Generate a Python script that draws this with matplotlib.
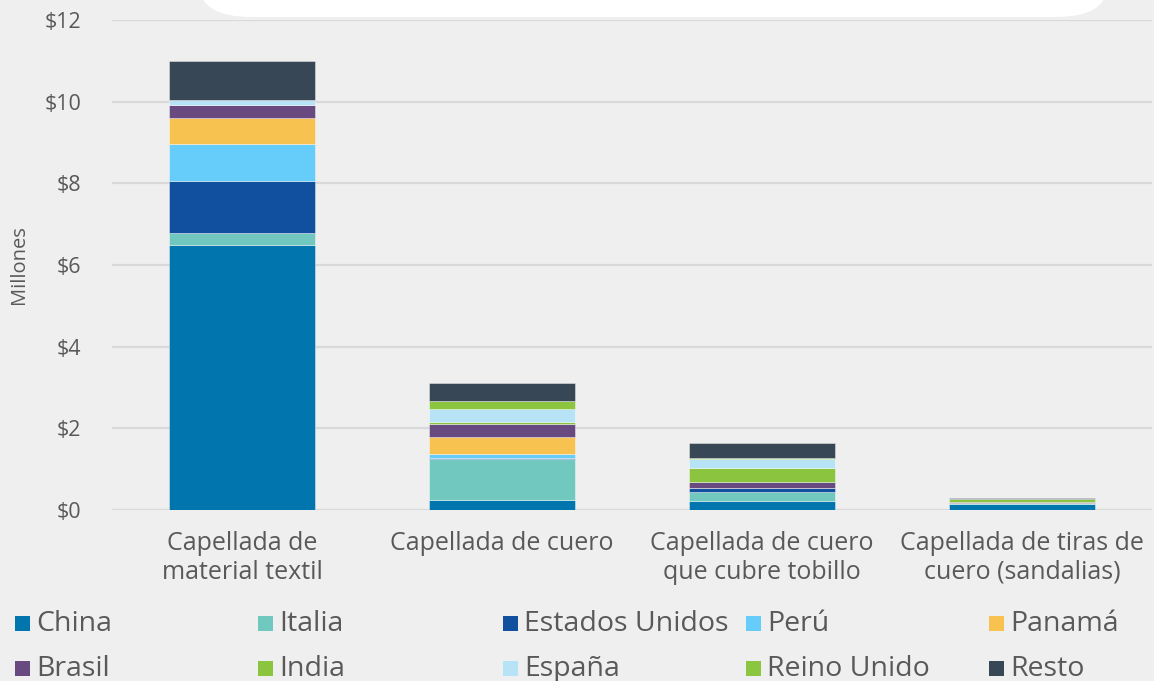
import numpy as np
import matplotlib.pyplot as plt
from matplotlib.patches import FancyBboxPatch, Rectangle

plt.rcParams['font.family'] = ['Open Sans', 'DejaVu Sans']

categories = ['Capellada de\nmaterial textil', 'Capellada de cuero',
              'Capellada de cuero\nque cubre tobillo', 'Capellada de tiras de\ncuero (sandalias)']

# millones de USD por pais de origen
china       = [6.50, 0.24, 0.23, 0.15]
italia      = [0.28, 1.00, 0.21, 0.02]
eeuu        = [1.27, 0.04, 0.09, 0.01]
peru        = [0.92, 0.09, 0.00, 0.00]
panama      = [0.64, 0.43, 0.00, 0.00]
brasil      = [0.32, 0.31, 0.15, 0.02]
india       = [0.00, 0.05, 0.35, 0.07]
espana      = [0.12, 0.32, 0.23, 0.00]
reino_unido = [0.00, 0.19, 0.02, 0.00]
resto       = [0.95, 0.43, 0.35, 0.03]

series = [('China', china, '#0075AE'), ('Italia', italia, '#71C8BE'),
          ('Estados Unidos', eeuu, '#114F9F'), ('Perú', peru, '#66CCFA'),
          ('Panamá', panama, '#F8C250'), ('Brasil', brasil, '#684A80'),
          ('India', india, '#8BC43F'), ('España', espana, '#B7E3F7'),
          ('Reino Unido', reino_unido, '#8CC540'), ('Resto', resto, '#374755')]

bg = '#EFEFEF'
txt = '#595959'

fig = plt.figure(figsize=(11.54, 6.81), dpi=100, facecolor=bg)
ax = fig.add_axes([112/1154, 171/681, 1040/1154, 490/681], facecolor=bg)

# white rounded box peeking at the top
fig.patches.append(FancyBboxPatch((200/1154, 1 - 17/681), 907/1154, 0.2,
                                  boxstyle='round,pad=0,rounding_size=0.045',
                                  transform=fig.transFigure, facecolor='white',
                                  edgecolor='none', mutation_aspect=681/1154 * 1.7))

x = np.arange(len(categories))
bottom = np.zeros(len(categories))
for name, vals, col in series:
    ax.bar(x, vals, 0.56, bottom=bottom, color=col, edgecolor=(1, 1, 1, 0.4),
           linewidth=0.7, zorder=3)
    bottom += np.array(vals)

ax.set_xlim(-0.5, 3.5)
ax.set_ylim(0, 12)
ax.set_yticks(range(0, 13, 2))
ax.set_yticklabels(['$%d' % v for v in range(0, 13, 2)])
ax.set_xticks(x)
ax.set_xticklabels(categories, linespacing=1.2)
ax.tick_params(length=0, colors=txt, labelsize=15.5)
ax.tick_params(axis='x', pad=15, labelsize=18)
ax.tick_params(axis='y', pad=22)
ax.yaxis.grid(True, color='#D9D9D9', linewidth=1.6, zorder=0)
for s in ax.spines.values():
    s.set_visible(False)
ax.set_ylabel('Millones', color=txt, fontsize=14.5)
ax.yaxis.set_label_coords(-83/1040, 0.5)

# legend in 5 equal columns, 2 rows
col_x = [15, 258, 503, 746, 989]
row_y = [623, 668]
for i, (name, vals, col) in enumerate(series):
    r, c = divmod(i, 5)
    fig.patches.append(Rectangle((col_x[c]/1154, 1 - (row_y[r] + 7.5)/681), 15/1154, 15/681,
                                 transform=fig.transFigure, facecolor=col, edgecolor='none'))
    fig.text((col_x[c] + 21)/1154, 1 - (row_y[r] + 1)/681, name, color=txt, fontsize=20.5,
             va='center', ha='left')

fig.savefig('out.png', dpi=100, facecolor=bg)
